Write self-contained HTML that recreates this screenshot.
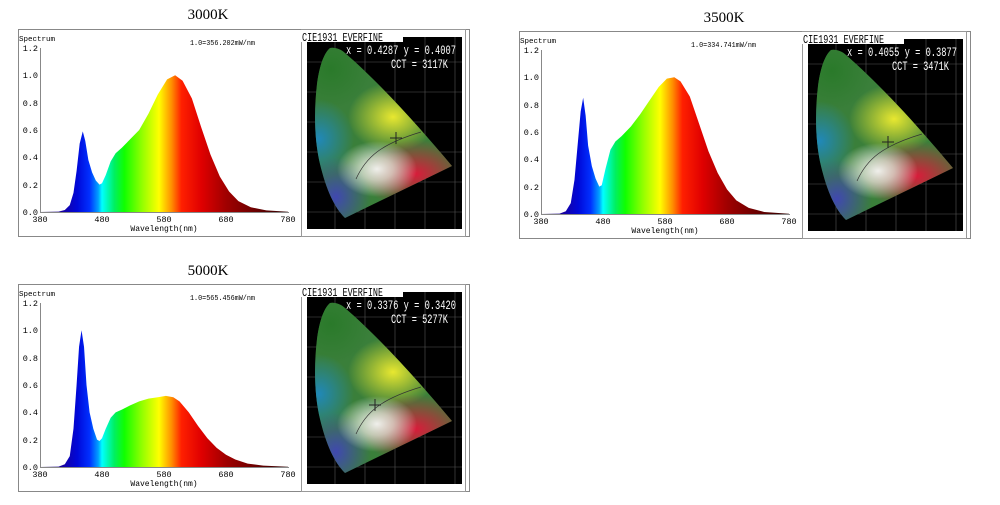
<!DOCTYPE html>
<html><head><meta charset="utf-8"><style>
html,body{margin:0;padding:0;background:#fff;}
svg{display:block;}
.s{font-family:"Liberation Serif",serif;}
.m{font-family:"Liberation Mono",monospace;}
</style></head><body>
<svg width="1000" height="505" viewBox="0 0 1000 505" xmlns="http://www.w3.org/2000/svg">
<defs>
<linearGradient id="spec" gradientUnits="userSpaceOnUse" x1="380" y1="0" x2="780" y2="0">
<stop offset="0" stop-color="#1a0050"/>
<stop offset="0.09" stop-color="#1800a0"/>
<stop offset="0.15" stop-color="#0008d8"/>
<stop offset="0.2" stop-color="#0030ff"/>
<stop offset="0.235" stop-color="#00a0ff"/>
<stop offset="0.25" stop-color="#00ffff"/>
<stop offset="0.3" stop-color="#00f060"/>
<stop offset="0.34" stop-color="#10ff00"/>
<stop offset="0.41" stop-color="#90ff00"/>
<stop offset="0.48" stop-color="#ffff00"/>
<stop offset="0.53" stop-color="#ff9000"/>
<stop offset="0.57" stop-color="#ff2000"/>
<stop offset="0.65" stop-color="#e00000"/>
<stop offset="0.75" stop-color="#a00000"/>
<stop offset="1" stop-color="#300000"/>
</linearGradient>
<clipPath id="horse"><path d="M29,19 C22,25 18,40 16,55 C13,80 13,110 19,135 C25,160 33,178 44,189 L151,137 C120,100 80,55 44,24 C40,20 33,18 29,19 Z"/></clipPath>
<radialGradient id="gG" cx="0.5" cy="0.5" r="0.5"><stop offset="0" stop-color="#2a7a2a"/><stop offset="1" stop-color="#2a7a2a" stop-opacity="0"/></radialGradient>
<radialGradient id="gY" cx="0.5" cy="0.5" r="0.5"><stop offset="0" stop-color="#e8e830"/><stop offset="1" stop-color="#e8e830" stop-opacity="0"/></radialGradient>
<radialGradient id="gR" cx="0.5" cy="0.5" r="0.5"><stop offset="0" stop-color="#d81c3a"/><stop offset="1" stop-color="#d81c3a" stop-opacity="0"/></radialGradient>
<radialGradient id="gB" cx="0.5" cy="0.5" r="0.5"><stop offset="0" stop-color="#4048b0"/><stop offset="1" stop-color="#4048b0" stop-opacity="0"/></radialGradient>
<radialGradient id="gC" cx="0.5" cy="0.5" r="0.5"><stop offset="0" stop-color="#2088b8"/><stop offset="1" stop-color="#2088b8" stop-opacity="0"/></radialGradient>
<radialGradient id="gW" cx="0.5" cy="0.5" r="0.5"><stop offset="0" stop-color="#ffffff" stop-opacity="0.9"/><stop offset="0.4" stop-color="#f0f0e8" stop-opacity="0.7"/><stop offset="1" stop-color="#ffffff" stop-opacity="0"/></radialGradient>

<g id="frame">
<rect x="18.5" y="29.5" width="451" height="207" fill="#fff" stroke="#888" stroke-width="1"/>
<text class="m" x="19" y="41" font-size="7.5">Spectrum</text>
<g class="m" font-size="8.5" text-anchor="end">
<text x="38" y="51">1.2</text><text x="38" y="78">1.0</text><text x="38" y="106">0.8</text>
<text x="38" y="133">0.6</text><text x="38" y="160">0.4</text><text x="38" y="188">0.2</text><text x="38" y="215">0.0</text>
</g>
<line x1="40.5" y1="48" x2="40.5" y2="212" stroke="#888"/>
<line x1="40" y1="212.5" x2="289" y2="212.5" stroke="#888"/>
<g class="m" font-size="8.5" text-anchor="middle">
<text x="40" y="222">380</text><text x="102" y="222">480</text><text x="164" y="222">580</text><text x="226" y="222">680</text><text x="288" y="222">780</text>
<text x="164" y="231" font-size="8">Wavelength(nm)</text>
</g>
<rect x="301.5" y="29.5" width="164" height="207" fill="#fff" stroke="#999"/>
<rect x="307" y="37" width="155" height="192" fill="#000"/>
<g stroke="#555" stroke-width="0.6">
<line x1="335" y1="37" x2="335" y2="229"/><line x1="365" y1="37" x2="365" y2="229"/><line x1="395" y1="37" x2="395" y2="229"/><line x1="425" y1="37" x2="425" y2="229"/><line x1="455" y1="37" x2="455" y2="229"/>
<line x1="307" y1="62" x2="462" y2="62"/><line x1="307" y1="92" x2="462" y2="92"/><line x1="307" y1="122" x2="462" y2="122"/><line x1="307" y1="152" x2="462" y2="152"/><line x1="307" y1="182" x2="462" y2="182"/><line x1="307" y1="212" x2="462" y2="212"/>
</g>
<g transform="translate(301,29)">
<g clip-path="url(#horse)">
<rect x="0" y="0" width="160" height="200" fill="#3a7f3a"/>
<ellipse cx="30" cy="40" rx="40" ry="40" fill="url(#gG)"/>
<ellipse cx="92" cy="88" rx="45" ry="35" fill="url(#gY)"/>
<ellipse cx="115" cy="145" rx="55" ry="35" fill="url(#gR)"/>
<ellipse cx="18" cy="110" rx="35" ry="40" fill="url(#gC)"/>
<ellipse cx="35" cy="168" rx="35" ry="40" fill="url(#gB)"/>
<ellipse cx="76" cy="140" rx="40" ry="28" fill="url(#gW)"/>
</g>
<path d="M55,150 C65,128 80,115 120,103" fill="none" stroke="#333" stroke-width="0.7"/>
</g>
<rect x="301" y="30" width="102" height="12" fill="#fff"/>
<text class="m" x="302" y="41" font-size="12" textLength="81" lengthAdjust="spacingAndGlyphs">CIE1931 EVERFINE</text>
</g>
</defs>

<!-- Panel 1 -->
<text class="s" x="208" y="19" font-size="15" text-anchor="middle">3000K</text>
<use href="#frame"/>
<text class="m" x="190" y="45" font-size="7.5" textLength="65" lengthAdjust="spacingAndGlyphs">1.0=356.202mW/nm</text>
<g transform="translate(40,212) scale(0.62,-136.7) translate(-380,0)">
<path fill="url(#spec)" d="M380,0 L410,0.003 L420,0.015 L428,0.05 L434,0.14 L439,0.3 L444,0.5 L449,0.59 L453,0.52 L458,0.38 L464,0.29 L470,0.23 L476,0.2 L480,0.21 L486,0.27 L494,0.37 L502,0.43 L512,0.47 L525,0.53 L540,0.6 L555,0.72 L570,0.86 L585,0.97 L598,1.0 L610,0.96 L625,0.83 L640,0.62 L655,0.42 L670,0.26 L685,0.15 L700,0.08 L720,0.035 L745,0.012 L780,0.002 L780,0 Z"/>
</g>
<g class="m" font-size="13" fill="#fff">
<text x="346" y="54" textLength="110" lengthAdjust="spacingAndGlyphs">x = 0.4287 y = 0.4007</text>
<text x="391" y="68" textLength="57" lengthAdjust="spacingAndGlyphs">CCT = 3117K</text>
</g>
<path d="M390,138 h12 M396,132 v12" stroke="#222" stroke-width="1"/>

<!-- Panel 2 -->
<text class="s" x="724" y="22" font-size="15" text-anchor="middle">3500K</text>
<use href="#frame" transform="translate(501,2)"/>
<text class="m" x="691" y="47" font-size="7.5" textLength="65" lengthAdjust="spacingAndGlyphs">1.0=334.741mW/nm</text>
<g transform="translate(541,214) scale(0.62,-136.7) translate(-380,0)">
<path fill="url(#spec)" d="M380,0 L410,0.003 L420,0.02 L428,0.08 L434,0.25 L439,0.5 L444,0.75 L448,0.85 L452,0.72 L456,0.5 L462,0.35 L468,0.26 L474,0.2 L478,0.21 L484,0.33 L492,0.47 L500,0.53 L510,0.57 L525,0.64 L540,0.73 L555,0.83 L570,0.93 L583,0.99 L595,1.0 L605,0.97 L620,0.86 L635,0.66 L650,0.46 L665,0.3 L680,0.18 L695,0.1 L715,0.045 L740,0.015 L780,0.002 L780,0 Z"/>
</g>
<g class="m" font-size="13" fill="#fff">
<text x="847" y="56" textLength="110" lengthAdjust="spacingAndGlyphs">x = 0.4055 y = 0.3877</text>
<text x="892" y="70" textLength="57" lengthAdjust="spacingAndGlyphs">CCT = 3471K</text>
</g>
<path d="M882,142 h12 M888,136 v12" stroke="#222" stroke-width="1"/>

<!-- Panel 3 -->
<text class="s" x="208" y="275" font-size="15" text-anchor="middle">5000K</text>
<use href="#frame" transform="translate(0,255)"/>
<text class="m" x="190" y="300" font-size="7.5" textLength="65" lengthAdjust="spacingAndGlyphs">1.0=565.456mW/nm</text>
<g transform="translate(40,467) scale(0.62,-136.7) translate(-380,0)">
<path fill="url(#spec)" d="M380,0 L410,0.003 L420,0.02 L428,0.08 L434,0.28 L439,0.6 L443,0.88 L447,1.0 L451,0.88 L455,0.6 L460,0.4 L466,0.28 L472,0.2 L476,0.19 L480,0.21 L486,0.28 L494,0.36 L502,0.4 L512,0.42 L525,0.45 L540,0.48 L555,0.5 L570,0.51 L583,0.52 L595,0.51 L605,0.48 L620,0.4 L635,0.3 L650,0.21 L665,0.14 L680,0.09 L695,0.055 L715,0.025 L740,0.01 L780,0.002 L780,0 Z"/>
</g>
<g class="m" font-size="13" fill="#fff">
<text x="346" y="309" textLength="110" lengthAdjust="spacingAndGlyphs">x = 0.3376 y = 0.3420</text>
<text x="391" y="323" textLength="57" lengthAdjust="spacingAndGlyphs">CCT = 5277K</text>
</g>
<path d="M369,405 h12 M375,399 v12" stroke="#222" stroke-width="1"/>
</svg>
</body></html>
